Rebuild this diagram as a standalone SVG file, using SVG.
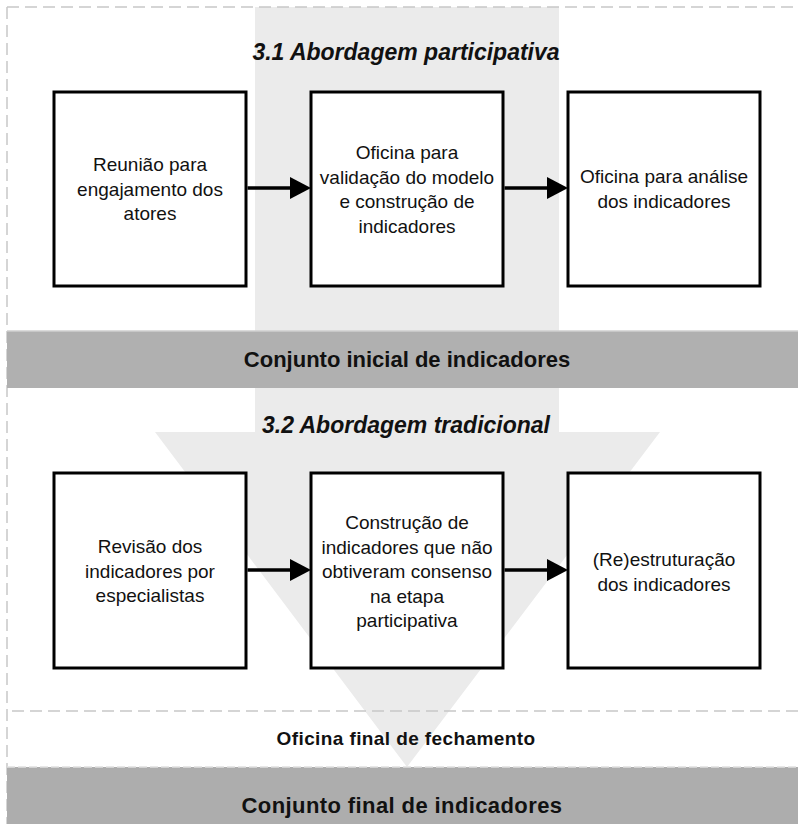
<svg xmlns="http://www.w3.org/2000/svg" width="798" height="824" viewBox="0 0 798 824">
<defs>
<style>
.box{fill:#fff;stroke:#000;stroke-width:3}
.t{font-family:"Liberation Sans",Arial,sans-serif;font-size:19px;fill:#111;text-anchor:middle}
.h{font-family:"Liberation Sans",Arial,sans-serif;font-size:23px;font-weight:bold;font-style:italic;fill:#111;text-anchor:middle}
.b{font-family:"Liberation Sans",Arial,sans-serif;font-size:22px;font-weight:bold;fill:#111;text-anchor:middle}
.dash{stroke:#c8c8c8;stroke-width:1.5;stroke-dasharray:12 6;fill:none}
.conn{stroke:#000;stroke-width:3.5;fill:none}
</style>
<marker id="ah" markerWidth="6" markerHeight="6" refX="6" refY="3" orient="auto" markerUnits="strokeWidth">
<path d="M0,0 L6,3 L0,6 Z" fill="#000"/>
</marker>
</defs>
<rect width="798" height="824" fill="#fff"/>
<g id="background">
<path d="M255,7 H559 V432 H660 L407,767 L155,432 H255 Z" fill="#ebebeb"/>
<line class="dash" x1="7" y1="7" x2="798" y2="7"/>
<line class="dash" x1="7" y1="7" x2="7" y2="824"/>
<rect x="7" y="331" width="791" height="57" fill="#b0b0b0"/>
<line x1="7" y1="331" x2="798" y2="331" stroke="#cfcfcf" stroke-width="1.5"/>
<line class="dash" x1="12" y1="711" x2="798" y2="711"/>
<rect x="7" y="767" width="791" height="57" fill="#adadad"/>
<line x1="7" y1="767" x2="798" y2="767" stroke="#e0e0e0" stroke-width="1.5" stroke-dasharray="8 3"/>
</g>
<g id="title1"><text class="h" x="406" y="60">3.1 Abordagem participativa</text></g>
<g id="title2"><text class="h" x="406" y="433">3.2 Abordagem tradicional</text></g>
<g id="band1"><text class="b" x="407" y="367">Conjunto inicial de indicadores</text></g>
<g id="oficina-final"><text class="b" x="406" y="745" style="font-size:19px;letter-spacing:0.4px">Oficina final de fechamento</text></g>
<g id="band2"><text class="b" x="402" y="813" style="letter-spacing:0.4px">Conjunto final de indicadores</text></g>
<g id="n1">
<rect class="box" x="54" y="92" width="192" height="194"/>
<text class="t" x="150" y="171">Reunião para</text>
<text class="t" x="150" y="195.5">engajamento dos</text>
<text class="t" x="150" y="220">atores</text>
</g>
<g id="n2">
<rect class="box" x="311" y="92" width="192" height="194"/>
<text class="t" x="407" y="159">Oficina para</text>
<text class="t" x="407" y="183.5">validação do modelo</text>
<text class="t" x="407" y="208">e construção de</text>
<text class="t" x="407" y="232.5">indicadores</text>
</g>
<g id="n3">
<rect class="box" x="568" y="92" width="192" height="194"/>
<text class="t" x="664" y="183">Oficina para análise</text>
<text class="t" x="664" y="207.5">dos indicadores</text>
</g>
<g id="n4">
<rect class="box" x="54" y="473" width="192" height="195"/>
<text class="t" x="150" y="553">Revisão dos</text>
<text class="t" x="150" y="577.5">indicadores por</text>
<text class="t" x="150" y="602">especialistas</text>
</g>
<g id="n5">
<rect class="box" x="311" y="473" width="192" height="195"/>
<text class="t" x="407" y="529">Construção de</text>
<text class="t" x="407" y="553.5">indicadores que não</text>
<text class="t" x="407" y="578">obtiveram consenso</text>
<text class="t" x="407" y="602.5">na etapa</text>
<text class="t" x="407" y="627">participativa</text>
</g>
<g id="n6">
<rect class="box" x="568" y="473" width="192" height="195"/>
<text class="t" x="664" y="566">(Re)estruturação</text>
<text class="t" x="664" y="590.5">dos indicadores</text>
</g>
<g id="connectors">
<line class="conn" x1="247.5" y1="188" x2="292" y2="188"/>
<path d="M290,177 L311,188 L290,199 Z" fill="#000"/>
<line class="conn" x1="504.5" y1="188" x2="549" y2="188"/>
<path d="M547,177 L568,188 L547,199 Z" fill="#000"/>
<line class="conn" x1="247.5" y1="570" x2="292" y2="570"/>
<path d="M290,559 L311,570 L290,581 Z" fill="#000"/>
<line class="conn" x1="504.5" y1="570" x2="549" y2="570"/>
<path d="M547,559 L568,570 L547,581 Z" fill="#000"/>
</g>
</svg>
